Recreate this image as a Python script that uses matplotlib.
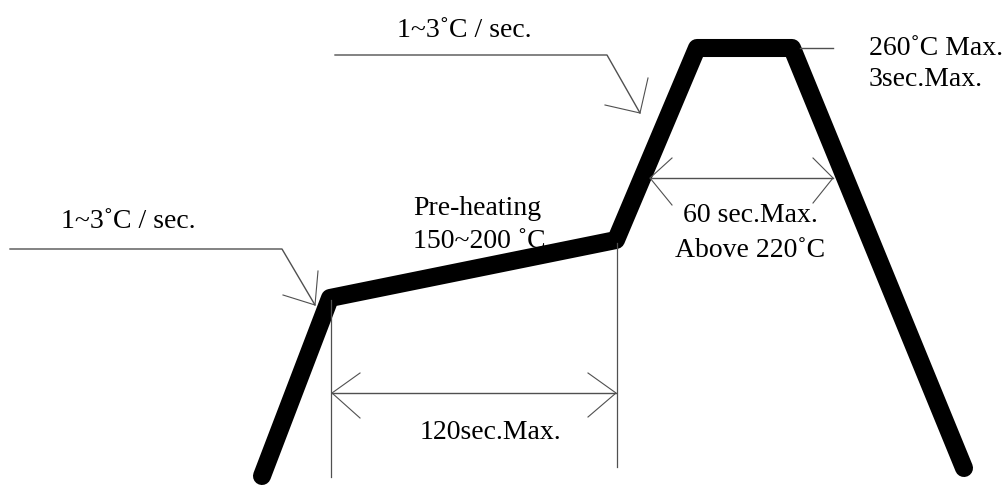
import numpy as np
import matplotlib
matplotlib.use('Agg')
import matplotlib.pyplot as plt

plt.rcParams['font.family'] = ['Liberation Serif', 'DejaVu Serif']

# reflow profile outline (drawing units, y grows downward)
profile_x = [262, 330, 616, 697, 792, 964]
profile_y = [476, 298, 240, 48, 48, 468]

# labels
ramp_label = '1~3˚C / sec.'
preheat_lines = ['Pre-heating', '150~200 ˚C']
peak_lines = ['260˚C Max.', '3sec.Max.']
reflow_lines = ['60 sec.Max.', 'Above 220˚C']
soak_label = '120sec.Max.'

GREY = '#505050'
FS = 20


def v_head(ax, tip, arm1, arm2):
    # open V arrow head
    ax.plot([arm1[0], tip[0], arm2[0]], [arm1[1], tip[1], arm2[1]],
            color=GREY, lw=0.8)


fig = plt.figure(figsize=(10.07, 4.93), dpi=100)
ax = fig.add_axes([0, 0, 1, 1])
ax.set_xlim(0, 1007)
ax.set_ylim(493, 0)
ax.axis('off')

# main curve
ax.plot(profile_x, profile_y, color='black', lw=13,
        solid_capstyle='round', solid_joinstyle='round')

# lower ramp annotation
ax.plot([10, 282, 315], [249, 249, 305], color=GREY, lw=1.0)
v_head(ax, (315, 305), (318, 271), (283, 295))
ax.text(128, 228, ramp_label, fontsize=FS, ha='center', va='baseline')

# upper ramp annotation
ax.plot([335, 607, 640], [55, 55, 113], color=GREY, lw=1.0)
v_head(ax, (640, 113), (648, 78), (605, 105))
ax.text(464, 37, ramp_label, fontsize=FS, ha='center', va='baseline')

# peak annotation
ax.plot([800, 833], [48, 48], color=GREY, lw=1.0)
for line, base in zip(peak_lines, [55, 86]):
    ax.text(869, base, line, fontsize=FS, ha='left', va='baseline')

# time above liquidus
ax.plot([650, 833], [178, 178], color=GREY, lw=1.0)
v_head(ax, (650, 178), (672, 158), (672, 205))
v_head(ax, (833, 178), (813, 158), (813, 203))
for line, base in zip(reflow_lines, [222, 257]):
    ax.text(750, base, line, fontsize=FS, ha='center', va='baseline')

# preheat label
for line, base in zip(preheat_lines, [215, 248]):
    ax.text(413, base, line, fontsize=FS, ha='left', va='baseline')

# preheat duration
ax.plot([331, 331], [300, 477], color=GREY, lw=0.9)
ax.plot([617, 617], [243, 467], color=GREY, lw=0.9)
ax.plot([332, 616], [393, 393], color=GREY, lw=1.0)
v_head(ax, (332, 393), (360, 373), (360, 418))
v_head(ax, (616, 393), (588, 373), (588, 417))
ax.text(490, 439, soak_label, fontsize=FS, ha='center', va='baseline')

fig.savefig('out.png', dpi=100, facecolor='white')
